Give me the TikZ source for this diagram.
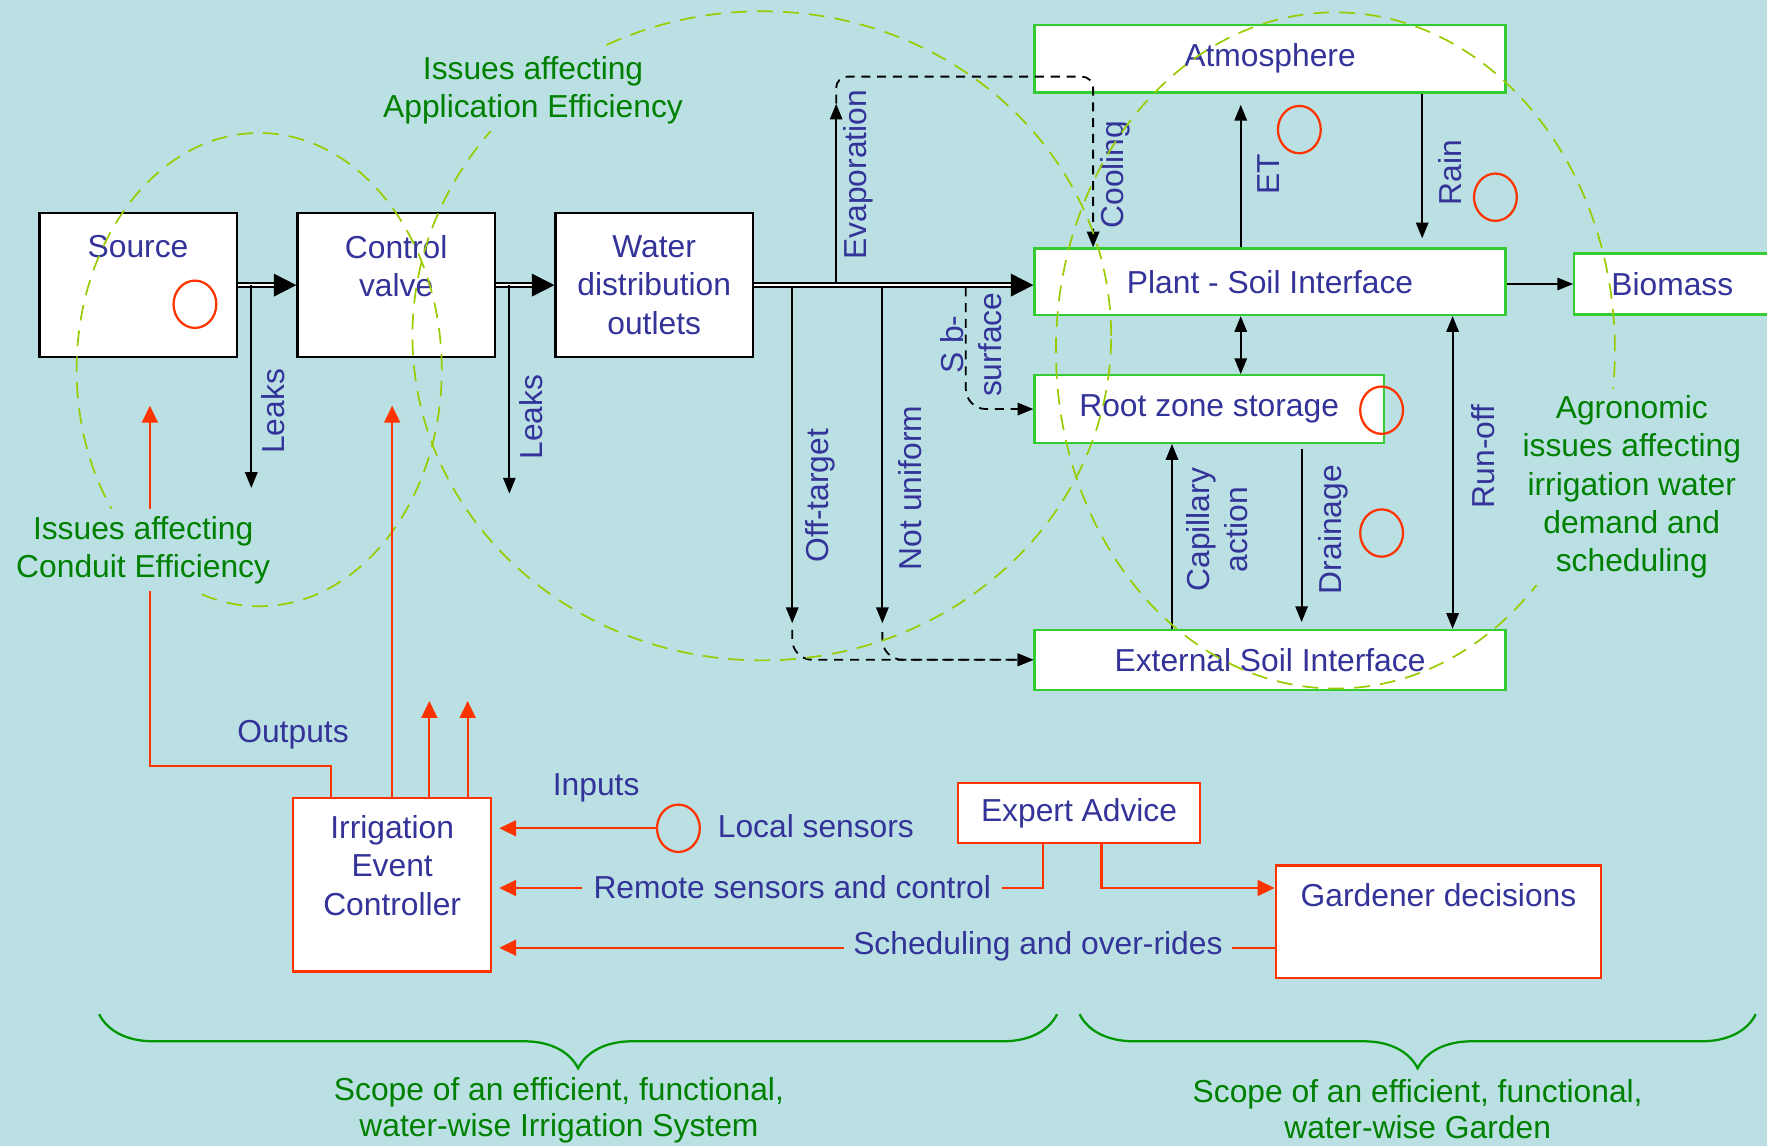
\documentclass[tikz,border=0pt]{standalone}
\usepackage{fontspec}
\setmainfont{Liberation Sans}
\usetikzlibrary{arrows.meta,positioning,shapes.geometric,decorations.pathreplacing}
\definecolor{bgblue}{RGB}{186,224,227}
\definecolor{txtblue}{RGB}{51,51,153}
\definecolor{txtgreen}{RGB}{0,128,0}
\definecolor{lime}{RGB}{153,204,0}
\definecolor{boxgreen}{RGB}{51,204,51}
\definecolor{alarm}{RGB}{255,51,0}
\definecolor{bracegreen}{RGB}{0,150,0}

\begin{document}
\begin{tikzpicture}[x=0.5pt,y=-0.5pt,>={Triangle[length=7pt,width=5.5pt]},
  every node/.style={font=\fontsize{14.1}{17}\selectfont,text=txtblue},
  pipe box/.style={draw=black,line width=1pt,fill=white,inner sep=0pt,align=center,minimum width=87.5pt,minimum height=64pt},
  soil box/.style={draw=boxgreen,line width=1pt,fill=white,inner sep=0pt},
  ctrl box/.style={draw=alarm,line width=1pt,fill=white,inner sep=0pt},
  pipe/.style={double=white,double distance=1.2pt,line width=0.8pt,-{Triangle[length=10pt,width=10pt]}},
  flow/.style={->,line width=0.8pt},
  seep/.style={->,line width=0.8pt,dash pattern=on 4pt off 3pt,rounded corners=5pt},
  signal/.style={-{Triangle[length=7.5pt,width=7pt]},draw=alarm,line width=1pt},
  sensor/.style={ellipse,draw=alarm,line width=1pt,minimum width=19pt,minimum height=21pt,inner sep=0pt},
  issue ring/.style={draw=lime,line width=0.75pt,dash pattern=on 7pt off 4.5pt},
  issue/.style={text=txtgreen,fill=bgblue,align=center,inner sep=3pt},
  side label/.style={rotate=90,align=center},
  scope brace/.style={draw=bracegreen,line width=1pt,decorate,decoration={brace,mirror,amplitude=24pt}}]

\fill[bgblue] (0,0) rectangle (1568,1017);
\useasboundingbox (0,0) rectangle (1568,1017);

\node[pipe box] (src) at (122.5,253) {Source\\~\\~};
\node[pipe box] (valve) at (351.5,253) {Control\\valve\\~};
\node[pipe box] (outlets) at (580.5,253) {Water\\distribution\\outlets};

\node[soil box,minimum width=209pt,minimum height=30pt] (atmos) at (1127,52) {Atmosphere};
\node[soil box,minimum width=209pt,minimum height=29.5pt] (plant) at (1127,250) {Plant - Soil Interface};
\node[soil box,minimum width=87pt,minimum height=27pt] (biomass) at (1484,252) {Biomass};
\node[soil box,minimum width=155pt,minimum height=30pt] (root) at (1073,363) {Root zone storage};
\node[soil box,minimum width=209pt,minimum height=26.5pt] (ext) at (1127,585.5) {External Soil Interface};

\coordinate (lk1) at (223,253);
\coordinate (lk1 end) at (223,433);
\coordinate (lk2) at (452,253);
\coordinate (lk2 end) at (452,438);
\coordinate (evap) at (742,251);
\coordinate (evap top) at (742,92);
\coordinate (cool) at (970,68);
\coordinate (miss) at (703,255);
\coordinate (miss end) at (703,553);
\coordinate (uneven) at (783,255);
\coordinate (uneven end) at (783,553);
\coordinate (deep) at (857,255);

\draw[pipe] (src.east) -- (valve.west);
\draw[pipe] (valve.east) -- (outlets.west);
\draw[pipe] (outlets.east) -- (outlets.east -| plant.west);

\path[flow]
  (lk1) edge (lk1 end)
  (lk2) edge (lk2 end)
  (evap) edge (evap top)
  (miss) edge (miss end)
  (uneven) edge (uneven end);

\draw[seep] (evap top) |- (cool) -- (cool |- plant.north);
\draw[seep,rounded corners=9pt] ([yshift=-3pt]miss end) |- (ext.west);
\draw[seep,rounded corners=9pt] ([yshift=-4pt]uneven end) |- (ext.west);
\draw[seep,rounded corners=9pt] (deep) |- (root.west);

\path[flow]
  ([xshift=-13pt]plant.north) edge[shorten >=5pt] ([xshift=-13pt]atmos.south)
  ([xshift=67.5pt]atmos.south) edge[shorten >=4pt] ([xshift=67.5pt]plant.north)
  (plant.east |- biomass.west) edge (biomass.west)
  ([xshift=-13pt]plant.south) edge[<->] ([xshift=14pt]root.north)
  ([xshift=-43.5pt]ext.north) edge ([xshift=-16.5pt]root.south)
  ([xshift=41pt]root.south) edge[shorten <=2pt,shorten >=3pt] ([xshift=14pt]ext.north)
  ([xshift=81pt]ext.north) edge[<->] ([xshift=81pt]plant.south);

\node[side label] (leaks1) at (242,365) {Leaks};
\node[side label] (leaks2) at (471,370) {Leaks};
\node[side label] (evap lbl) at (762,155) {Evaporation};
\node[side label] (cool lbl) at (990,155) {Cooling};
\node[side label] (deep lbl) at (862,306) {S b-\\surface};
\node[side label] (miss lbl) at (728,440) {Off-target};
\node[side label] (uneven lbl) at (808,433) {Not uniform};
\node[side label] (et lbl) at (1126,155) {ET};
\node[side label] (rain lbl) at (1287,153) {Rain};
\node[side label] (cap lbl) at (1080,470) {Capillary\\action};
\node[side label] (drain lbl) at (1183,470) {Drainage};
\node[side label] (runoff lbl) at (1316,405) {Run-off};

\node[sensor] (src alarm) at (173,270) {};
\node[sensor] (et alarm) at (1153,115) {};
\node[sensor] (rain alarm) at (1327,175) {};
\node[sensor] (root alarm) at (1226,364) {};
\node[sensor] (drain alarm) at (1226,473) {};
\node[sensor] (local) at (602,735) {};

\draw[issue ring] (230,328) ellipse [x radius=81pt,y radius=105pt];
\draw[issue ring] (676,298) ellipse [x radius=155pt,y radius=144pt];
\draw[issue ring] (1185,311) ellipse [x radius=124pt,y radius=150pt];

\node[ctrl box,align=center,minimum width=88pt,minimum height=77pt] (ctrl) at (348,785) {Irrigation\\Event\\Controller\\~};
\node[ctrl box,minimum width=107.5pt,minimum height=26.5pt] (expert) at (957.5,721.5) {Expert Advice};
\node[ctrl box,minimum width=144.5pt,minimum height=50pt,text height=10.3pt,text depth=24.3pt] (garden) at (1276.5,818) {Gardener decisions};

\coordinate (out1) at (133,360);
\coordinate (out2) at (348,360);
\coordinate (out3) at (381,622);
\coordinate (out4) at (415,622);

\draw[signal] ([xshift=-27pt]ctrl.north) -- ++(0,-27) -| (out1);
\draw[signal] (ctrl.north) -- (out2);
\draw[signal] ([xshift=16.5pt]ctrl.north) -- (out3);
\draw[signal] ([xshift=33.5pt]ctrl.north) -- (out4);
\draw[signal,shorten >=3pt] (local.west) -- (local.west -| ctrl.east);
\draw[signal,shorten >=3pt] ([xshift=-16pt]expert.south) |- ([yshift=-1.5pt]ctrl.east);
\draw[signal] ([xshift=10pt]expert.south) |- ([yshift=15pt]garden.west);
\draw[signal,shorten >=3pt] ([yshift=-11.5pt]garden.west) -- ([yshift=-11.5pt]garden.west -| ctrl.east);

\node (outputs) at (260,652) {Outputs};
\node (inputs) at (529,699) {Inputs};
\node (local lbl) at (724,733) {Local sensors};
\node[fill=bgblue,inner xsep=5pt] (remote) at (703,787) {Remote sensors and control};
\node[fill=bgblue,inner xsep=4pt] (sched) at (921,840) {Scheduling and over-rides};

\node[issue] (conduit) at (127,488) {Issues affecting\\Conduit Efficiency};
\node[issue] (application) at (473,80) {Issues affecting\\Application Efficiency};
\node[issue] (agronomic) at (1448,432) {Agronomic\\issues affecting\\irrigation water\\demand and\\scheduling};

\draw[scope brace] (88,900) -- (938,900);
\draw[scope brace] (958,900) -- (1558,900);
\node[text=txtgreen,align=center] (system scope) at (496,985) {Scope of an efficient, functional,\\[-1pt]water-wise Irrigation System};
\node[text=txtgreen,align=center] (garden scope) at (1258,984) {Scope of an efficient, functional,\\[-1pt]water-wise Garden};
\end{tikzpicture}
\end{document}
